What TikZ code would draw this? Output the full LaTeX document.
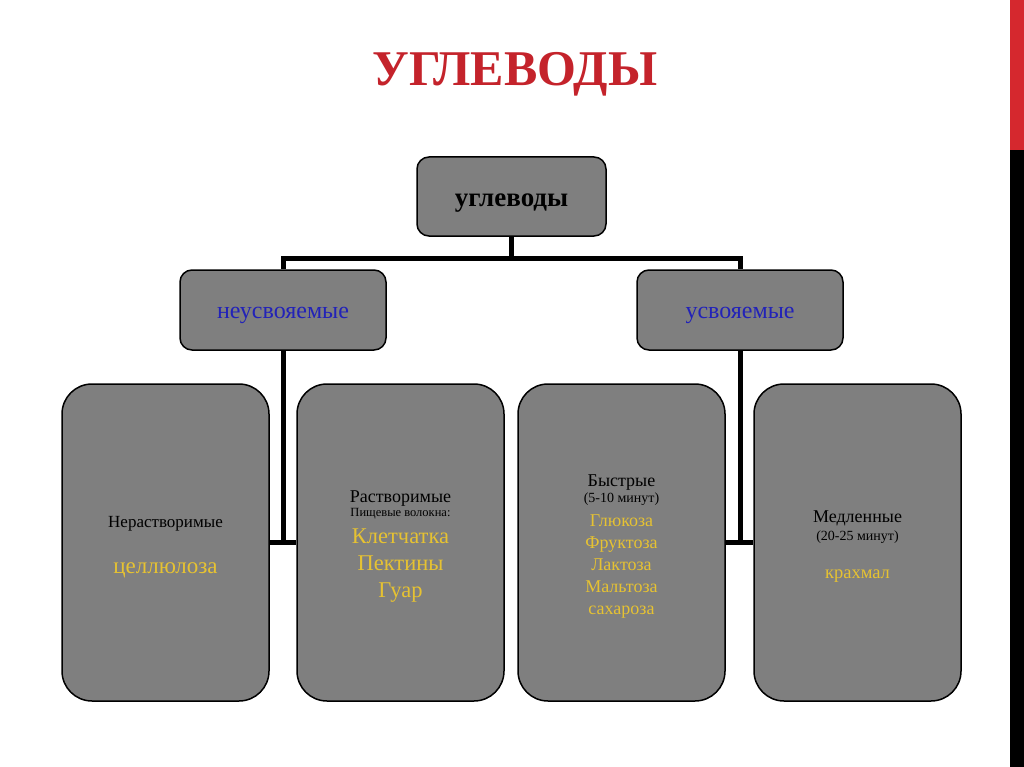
\documentclass[tikz,border=0pt]{standalone}
\usepackage{fontspec}
\setmainfont{Liberation Serif}
\usetikzlibrary{positioning}
\definecolor{clrBox}{HTML}{7F7F7F}
\definecolor{clrTitle}{HTML}{C4232B}
\definecolor{clrBar}{HTML}{D5282E}
\definecolor{clrBlue}{HTML}{2222B8}
\definecolor{clrGold}{HTML}{E6C232}
\newcommand{\fsz}[2]{\fontsize{#1}{#2}\selectfont}
\newcommand{\gold}[1]{\textcolor{clrGold}{#1}}
\newcommand{\leaftext}[1]{\parbox{200pt}{\centering\vspace*{9pt}#1}}

\begin{document}
\begin{tikzpicture}[
  x=1pt, y=-1pt,
  head/.style = {
    rectangle, rounded corners=12pt,
    draw=black, fill=clrBox, line width=1.5pt,
    inner sep=0pt,
    minimum width=189pt, minimum height=79pt
  },
  branch/.style = {
    head, minimum width=206pt, minimum height=80pt,
    text=clrBlue, font=\fsz{24}{24},
    text height=16pt, text depth=0pt
  },
  leaf/.style = {
    head, rounded corners=30pt,
    minimum width=207pt, minimum height=317pt
  },
  link/.style = {line width=5pt, color=black}
]
  \useasboundingbox (0,0) rectangle (1024,767);
  % side bar
  \fill[clrBar] (1010,0) rectangle (1024,150);
  \fill[black]  (1010,150) rectangle (1024,767);

  \node[anchor=base, text=clrTitle, font=\bfseries\fsz{50}{50}] (title) at (515,86) {УГЛЕВОДЫ};

  \node[head, font=\bfseries\fsz{27}{27}, text height=21pt, text depth=0pt] (root) at (511.5,196.5) {углеводы};
  \node[branch] (nonab) at (283,310) {неусвояемые};
  \node[branch] (absb)  at (740,310) {усвояемые};

  \node[leaf] (insol) at (165.5,542.5) {\leaftext{%
    \fsz{17}{17}Нерастворимые\par
    \fsz{23}{46}\gold{целлюлоза}}};
  \node[leaf] (sol)   at (400.5,542.5) {\leaftext{%
    \fsz{18}{18}Растворимые\par
    \fsz{12.5}{14}Пищевые волокна:\par
    \fsz{22.5}{27}\gold{Клетчатка}\par
    \gold{Пектины}\par
    \gold{Гуар}}};
  \node[leaf] (fast)  at (621.5,542.5) {\leaftext{%
    \fsz{18}{18}Быстрые\par
    \fsz{14}{16}(5-10 минут)\par
    \fsz{18}{24}\gold{Глюкоза}\par
    \fsz{18}{22}\gold{Фруктоза}\par
    \gold{Лактоза}\par
    \gold{Мальтоза}\par
    \gold{сахароза}}};
  \node[leaf] (slow)  at (857.5,542.5) {\leaftext{%
    \fsz{18}{18}Медленные\par
    \fsz{14}{18}(20-25 минут)\par
    \fsz{18.5}{38}\gold{крахмал}}};

  \coordinate (fork) at (511.5,258);
  \draw[link] (root.south) -- (fork);
  \draw[link] (nonab.north) |- (fork) -| (absb.north);
  \draw[link] (insol.east) -- (sol.west);
  \draw[link] (nonab.south) -- (nonab.south |- insol.east);
  \draw[link] (fast.east) -- (slow.west);
  \draw[link] (absb.south) -- (absb.south |- fast.east);
\end{tikzpicture}
\end{document}
